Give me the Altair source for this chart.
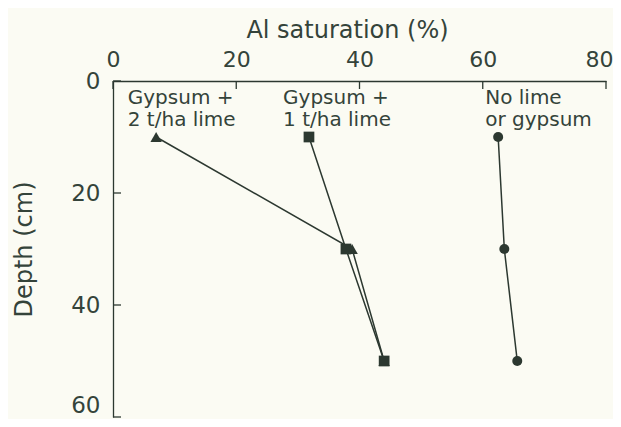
import altair as alt
import pandas as pd

# ---- data ----
depth = [10, 30, 50]
sat_gyp2 = [7.0, 38.8, 44.0]     # Gypsum + 2 t/ha lime (triangles)
sat_gyp1 = [31.8, 37.8, 44.0]    # Gypsum + 1 t/ha lime (squares)
sat_none = [62.5, 63.5, 65.6]    # No lime or gypsum (circles)
series = ["g2", "g1", "none"]
label_text = ["Gypsum +\n2 t/ha lime", "Gypsum +\n1 t/ha lime", "No lime\nor gypsum"]
label_x = [2.4, 27.6, 60.4]
label_y = [1.2, 1.2, 1.2]
x_ticks = [0, 20, 40, 60, 80]
y_ticks = [0, 20, 40, 60]

ink = "#2c3830"
txt = "#34433a"
bg = "#fbfbf3"
font = "DejaVu Sans"

rows = []
for name, vals in zip(series, [sat_gyp2, sat_gyp1, sat_none]):
    for d, v in zip(depth, vals):
        rows.append({"series": name, "depth": d, "sat": v})
df = pd.DataFrame(rows)
lab = pd.DataFrame({"x": label_x, "y": label_y, "t": label_text})

xs = alt.Scale(domain=[0, 80], nice=False, zero=False)
ys = alt.Scale(domain=[0, 60], reverse=True, nice=False, zero=False)

xaxis = alt.Axis(orient="top", values=x_ticks, ticks=False, grid=False,
                 domainColor=ink, domainWidth=1.3, labelFont=font, labelFontSize=22,
                 labelColor=txt, labelPadding=10, title="Al saturation (%)",
                 titleFont=font, titleFontSize=24, titleFontWeight="normal",
                 titleColor=txt, titlePadding=6, titleX=234,
                 labelFlush=True, labelFlushOffset=7)
yaxis = alt.Axis(orient="left", values=y_ticks, ticks=False, grid=False,
                 domainColor=ink, domainWidth=1.3, labelFont=font, labelFontSize=23,
                 labelColor=txt, labelPadding=13, title="Depth (cm)",
                 titleFont=font, titleFontSize=24, titleFontWeight="normal",
                 titleColor=txt, titlePadding=34, labelFlush=False,
                 labelBaseline={"condition": {"test": "datum.value === 60", "value": "bottom"},
                                "value": "middle"})

X = lambda f: alt.X(f, scale=xs, axis=xaxis, title="Al saturation (%)")
Y = lambda f: alt.Y(f, scale=ys, axis=yaxis, title="Depth (cm)")

base = alt.Chart(df)
lines = base.mark_line(color=ink, strokeWidth=1.5).encode(
    x=X("sat:Q"), y=Y("depth:Q"), detail="series:N",
)
points = base.mark_point(filled=True, color=ink, opacity=1).encode(
    x=X("sat:Q"), y=Y("depth:Q"),
    shape=alt.Shape("series:N", scale=alt.Scale(domain=series,
                    range=["triangle-up", "square", "circle"]), legend=None),
    size=alt.Size("series:N", scale=alt.Scale(domain=series, range=[130, 100, 90]), legend=None),
)
labels = alt.Chart(lab).mark_text(align="left", baseline="top", font=font, fontSize=20,
                                  color=txt, lineBreak="\n", lineHeight=22).encode(
    x=X("x:Q"), y=Y("y:Q"), text="t:N",
)
xt = alt.Chart(pd.DataFrame({"v": x_ticks})).mark_rule(color=ink, strokeWidth=1.3).encode(
    x=X("v:Q"), y=alt.value(0), y2=alt.value(8))
yt = alt.Chart(pd.DataFrame({"v": y_ticks})).mark_rule(color=ink, strokeWidth=1.3).encode(
    y=Y("v:Q"), x=alt.value(0), x2=alt.value(8))

chart = alt.layer(lines, xt, yt, points, labels).properties(
    width=493, height=336, background=bg,
    autosize=alt.AutoSizeParams(type="none"),
    padding={"left": 105, "top": 73, "right": 7, "bottom": 2},
).configure_view(stroke=None)

chart.save("out.html", embed_options={"renderer": "svg", "actions": False})
